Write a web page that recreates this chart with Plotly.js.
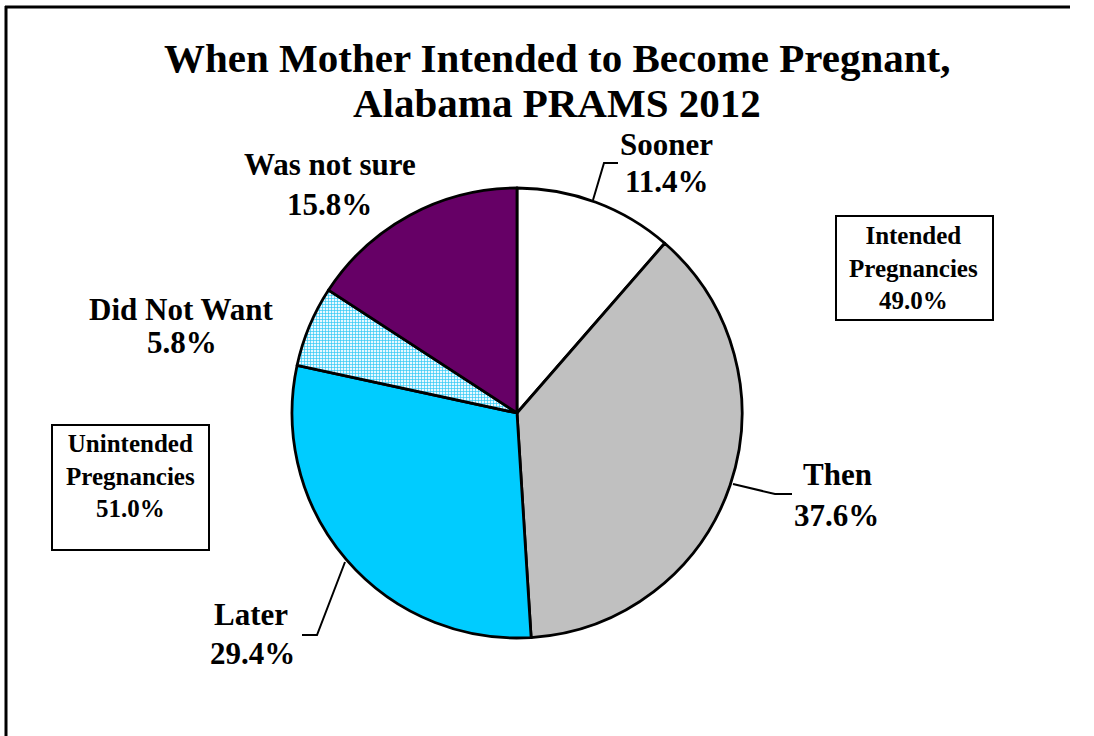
<!DOCTYPE html>
<html>
<head>
<meta charset="utf-8">
<script src="https://cdn.plot.ly/plotly-3.0.1.min.js"></script>
<style>
html,body{margin:0;padding:0;background:#fff;overflow:hidden;}
#chart{width:1094px;height:736px;}
</style>
</head>
<body>
<div id="chart"></div>
<script>
// Data
const categories = ["Sooner", "Then", "Later", "Did Not Want", "Was not sure"];
const values = [11.4, 37.6, 29.4, 5.8, 15.8];
const sliceColors = ["#FFFFFF", "#C0C0C0", "#00CCFF", "#FFFFFF", "#660066"];
const groupNames = ["Intended", "Unintended"];
const groupValues = [49.0, 51.0];
const titleLines = ["When Mother Intended to Become Pregnant,", "Alabama PRAMS 2012"];

const W = 1094, H = 736;
const px = x => x / W;
const py = y => 1 - y / H;
const FONT = "Liberation Serif, Times New Roman, serif";

// pie geometry (pixels)
const cx = 517, cy = 413, R = 225;

const trace = {
  type: "pie",
  labels: categories,
  values: values,
  sort: false,
  direction: "clockwise",
  rotation: 0,
  textinfo: "none",
  hoverinfo: "label+percent",
  marker: {
    colors: sliceColors,
    line: {color: "#000000", width: 2.8},
    pattern: {
      shape: ["", "", "", "+", ""],
      fgcolor: ["#000", "#000", "#000", "#2EC8F5", "#000"],
      bgcolor: ["#FFFFFF", "#C0C0C0", "#00CCFF", "#E8F8FF", "#660066"],
      size: 3,
      solidity: 0.4
    }
  },
  domain: {x: [px(cx - R), px(cx + R)], y: [py(cy + R), py(cy - R)]},
  showlegend: false
};

// label positions (pixel centers of name line and value line)
const namePos = [
  {x: 666, y: 144},
  {x: 837, y: 474},
  {x: 251, y: 614},
  {x: 181, y: 309},
  {x: 330, y: 164}
];
const valuePos = [
  {x: 667, y: 182},
  {x: 836, y: 515},
  {x: 252, y: 653},
  {x: 182, y: 342},
  {x: 329, y: 205}
];

const annotations = [];
categories.forEach((c, i) => {
  [[c, namePos[i]], [values[i].toFixed(1) + "%", valuePos[i]]].forEach(([t, p]) => {
    annotations.push({
      xref: "paper", yref: "paper",
      x: px(p.x), y: py(p.y),
      xanchor: "center", yanchor: "middle",
      text: "<b>" + t + "</b>",
      showarrow: false,
      font: {family: FONT, size: 31, color: "#000"},
      align: "center"
    });
  });
});

// group boxes (drawn as rectangles) and their text
const boxRects = [{x0: 836, x1: 993, y0: 216, y1: 320}, {x0: 52, x1: 209, y0: 425, y1: 550}];
const boxText = [{x: 914, y: 268}, {x: 130, y: 476}];
groupNames.forEach((g, i) => {
  annotations.push({
    xref: "paper", yref: "paper",
    x: px(boxText[i].x), y: py(boxText[i].y),
    xanchor: "center", yanchor: "middle",
    text: "<b>" + g + "<br>Pregnancies<br>" + groupValues[i].toFixed(1) + "%</b>",
    showarrow: false,
    font: {family: FONT, size: 25, color: "#000"},
    align: "center"
  });
});

// title (two lines)
const titleY = [58, 103];
titleLines.forEach((t, i) => {
  annotations.push({
    xref: "paper", yref: "paper",
    x: px(557), y: py(titleY[i]),
    xanchor: "center", yanchor: "middle",
    text: "<b>" + t + "</b>",
    showarrow: false,
    font: {family: FONT, size: 41, color: "#000"},
    align: "center"
  });
});

// leader lines (pixel polylines)
const leaders = [
  [[593, 200], [604, 163], [618, 163]],
  [[733, 484], [775, 494], [792, 494]],
  [[345, 562], [317, 635], [302, 635]]
];
const shapes = leaders.map(pts => ({
  type: "path",
  xref: "paper", yref: "paper",
  path: "M " + pts.map(p => px(p[0]) + "," + py(p[1])).join(" L "),
  line: {color: "#000", width: 2}
}));
boxRects.forEach(b => {
  shapes.push({
    type: "rect", xref: "paper", yref: "paper",
    x0: px(b.x0), x1: px(b.x1), y0: py(b.y1), y1: py(b.y0),
    line: {color: "#000", width: 2},
    fillcolor: "rgba(0,0,0,0)"
  });
});
// outer frame (only left and top edges are visible)
shapes.push({
  type: "line", xref: "paper", yref: "paper",
  x0: px(6), x1: px(6), y0: 0, y1: py(6),
  line: {color: "#000", width: 3}
});
shapes.push({
  type: "line", xref: "paper", yref: "paper",
  x0: px(5), x1: px(1070), y0: py(7), y1: py(7),
  line: {color: "#000", width: 3}
});

const layout = {
  width: W, height: H,
  margin: {l: 0, r: 0, t: 0, b: 0},
  paper_bgcolor: "#FFFFFF",
  plot_bgcolor: "#FFFFFF",
  showlegend: false,
  annotations: annotations,
  shapes: shapes
};

Plotly.newPlot("chart", [trace], layout, {displayModeBar: false, staticPlot: true});
</script>
</body>
</html>
